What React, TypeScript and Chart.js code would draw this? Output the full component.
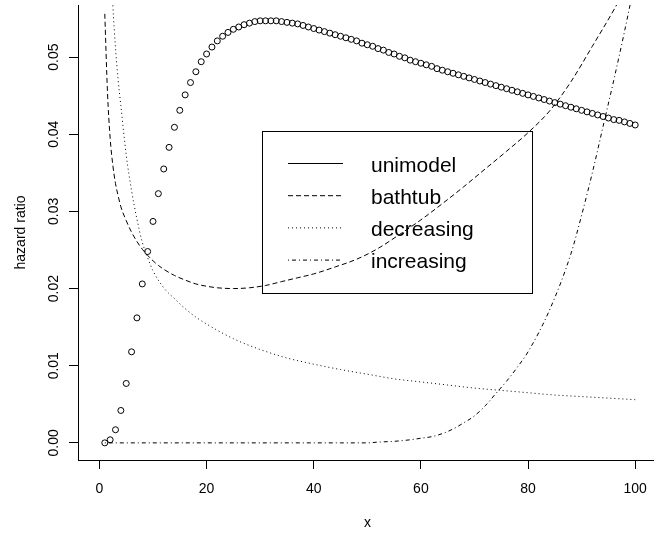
import React, { useEffect, useRef } from "react";
import { Chart, registerables } from "chart.js";

Chart.register(...registerables);

// ---- data ----
const unimodelX = Array.from({ length: 100 }, (_, i) => i + 1);
const unimodelY = [
  0.0000, 0.0004, 0.0017, 0.0042, 0.0077, 0.0118, 0.0162, 0.0206, 0.0248, 0.0287,
  0.0323, 0.0355, 0.0383, 0.0409, 0.0431, 0.0451, 0.0467, 0.0481, 0.0494, 0.0504,
  0.0513, 0.0521, 0.0527, 0.0532, 0.0536, 0.0539, 0.0542, 0.0544, 0.0546, 0.0547,
  0.0547, 0.0547, 0.0547, 0.0546, 0.0545, 0.0544, 0.0543, 0.0541, 0.0539, 0.0537,
  0.0535, 0.0533, 0.0531, 0.0529, 0.0527, 0.0525, 0.0523, 0.0521, 0.0518, 0.0516,
  0.0514, 0.0511, 0.0509, 0.0506, 0.0504, 0.0501, 0.0499, 0.0496, 0.0494, 0.0492,
  0.0490, 0.0488, 0.0485, 0.0483, 0.0481, 0.0479, 0.0477, 0.0475, 0.0473, 0.0471,
  0.0469, 0.0467, 0.0465, 0.0463, 0.0461, 0.0459, 0.0457, 0.0455, 0.0453, 0.0451,
  0.0449, 0.0447, 0.0445, 0.0443, 0.0441, 0.0439, 0.0437, 0.0435, 0.0433, 0.0431,
  0.0429, 0.0427, 0.0425, 0.0423, 0.0421, 0.0419, 0.0418, 0.0416, 0.0414, 0.0412,
];

const bathtubX = [1, 1.5, 2, 2.5, 3, 3.5, 4, 5, 6, 7, 8, 9, 10, 11, 12, 14, 16, 18, 20, 22, 25, 28, 31, 34, 37, 40, 44, 48, 52, 56, 60, 64, 68, 72, 76, 80, 84, 88, 92, 96, 100];
const bathtubY = [0.0556, 0.0455, 0.0395, 0.0360, 0.0336, 0.0320, 0.0306, 0.0288, 0.0273, 0.0261, 0.0251, 0.0243, 0.0236, 0.0230, 0.0225, 0.0217, 0.0211, 0.0206, 0.0203, 0.0201, 0.0200, 0.0201, 0.0204, 0.0209, 0.0214, 0.0219, 0.0228, 0.0238, 0.0252, 0.0270, 0.0289, 0.0310, 0.0332, 0.0355, 0.0378, 0.0402, 0.0430, 0.0468, 0.0514, 0.0561, 0.0612];

const decreasingX = [2, 2.5, 3, 3.5, 4, 5, 6, 7, 8, 9, 10, 12, 14, 16, 18, 20, 25, 30, 35, 40, 45, 50, 55, 60, 65, 70, 75, 80, 85, 90, 95, 100];
const decreasingY = [0.0650, 0.0568, 0.0512, 0.0470, 0.0437, 0.0373, 0.0327, 0.0290, 0.0260, 0.0240, 0.0223, 0.0201, 0.0187, 0.0174, 0.0163, 0.0154, 0.0135, 0.0121, 0.0110, 0.0102, 0.0095, 0.0089, 0.0083, 0.0079, 0.0075, 0.0071, 0.0068, 0.0065, 0.0062, 0.0060, 0.0058, 0.0056];

const increasingX = [1, 10, 20, 30, 40, 45, 50, 52, 55, 58, 60, 62, 64, 66, 68, 70, 72, 74, 76, 78, 80, 84, 88, 90, 92, 94, 96, 98, 100];
const increasingY = [0, 0, 0, 0, 0, 0, 0, 0.0001, 0.0002, 0.0004, 0.0006, 0.0008, 0.0012, 0.0018, 0.0026, 0.0035, 0.0048, 0.0064, 0.0080, 0.0098, 0.0118, 0.0172, 0.0245, 0.0295, 0.0350, 0.0410, 0.0470, 0.0533, 0.0600];

const xTicks = [0, 20, 40, 60, 80, 100];
const xTickLabels = ["0", "20", "40", "60", "80", "100"];
const yTicks = [0, 0.01, 0.02, 0.03, 0.04, 0.05];
const yTickLabels = ["0.00", "0.01", "0.02", "0.03", "0.04", "0.05"];
const legendLabels = ["unimodel", "bathtub", "decreasing", "increasing"];
const xTitle = "x";
const yTitle = "hazard ratio";

const pairs = (xs: number[], ys: number[]) => xs.map((x, i) => ({ x, y: ys[i] }));

const DASH_BATH = [5, 3];
const DASH_DEC = [1, 3];
const DASH_INC = [1, 3, 4, 3];
const FONT = "'Liberation Sans', Arial, Helvetica, sans-serif";

const overlay = {
  id: "overlay",
  afterDraw(chart: any) {
    const ctx = chart.ctx as CanvasRenderingContext2D;
    const xs = chart.scales.x;
    const ys = chart.scales.y;
    const a = chart.chartArea;
    ctx.save();
    ctx.fillStyle = "#000";
    ctx.strokeStyle = "#000";
    ctx.font = `14px ${FONT}`;
    ctx.textAlign = "center";
    ctx.textBaseline = "alphabetic";
    xTicks.forEach((v, i) => {
      ctx.fillText(xTickLabels[i], xs.getPixelForValue(v), a.bottom + 32.5);
    });
    yTicks.forEach((v, i) => {
      ctx.save();
      ctx.translate(a.left - 20, ys.getPixelForValue(v));
      ctx.rotate(-Math.PI / 2);
      ctx.fillText(yTickLabels[i], 0, 0);
      ctx.restore();
    });
    ctx.fillText(xTitle, (a.left + a.right) / 2, a.bottom + 66.5);
    ctx.save();
    ctx.translate(25, (a.top + a.bottom) / 2);
    ctx.rotate(-Math.PI / 2);
    ctx.fillText(yTitle, 0, 0);
    ctx.restore();

    // legend
    ctx.lineWidth = 1;
    ctx.setLineDash([]);
    ctx.strokeRect(262.5, 131.5, 270, 162);
    const rows = [163.5, 195.7, 227.9, 260.1];
    const dashes = [[], DASH_BATH, DASH_DEC, DASH_INC];
    ctx.font = `21px ${FONT}`;
    ctx.textAlign = "left";
    legendLabels.forEach((lab, i) => {
      ctx.setLineDash(dashes[i]);
      ctx.beginPath();
      ctx.moveTo(288, rows[i]);
      ctx.lineTo(343, rows[i]);
      ctx.stroke();
      ctx.setLineDash([]);
      ctx.fillText(lab, 371, rows[i] + 8.3);
    });
    ctx.restore();
  },
};

export default function App() {
  const ref = useRef<HTMLCanvasElement | null>(null);
  useEffect(() => {
    if (!ref.current) return;
    const chart = new Chart(ref.current, {
      type: "line",
      data: {
        datasets: [
          {
            label: legendLabels[0],
            data: pairs(unimodelX, unimodelY),
            showLine: false,
            pointRadius: 3,
            pointBorderWidth: 1,
            pointBorderColor: "#000",
            pointBackgroundColor: "rgba(0,0,0,0)",
            borderColor: "#000",
          },
          {
            label: legendLabels[1],
            data: pairs(bathtubX, bathtubY),
            borderColor: "#000",
            borderWidth: 1,
            borderDash: DASH_BATH,
            pointRadius: 0,
            cubicInterpolationMode: "monotone",
          },
          {
            label: legendLabels[2],
            data: pairs(decreasingX, decreasingY),
            borderColor: "#000",
            borderWidth: 1,
            borderDash: DASH_DEC,
            pointRadius: 0,
            cubicInterpolationMode: "monotone",
          },
          {
            label: legendLabels[3],
            data: pairs(increasingX, increasingY),
            borderColor: "#000",
            borderWidth: 1,
            borderDash: DASH_INC,
            pointRadius: 0,
            cubicInterpolationMode: "monotone",
          },
        ],
      },
      options: {
        responsive: false,
        animation: false,
        events: [],
        layout: { padding: 0 },
        plugins: { legend: { display: false }, tooltip: { enabled: false } },
        scales: {
          x: {
            type: "linear",
            position: "bottom",
            min: -4,
            max: 104.07,
            grid: { drawOnChartArea: false, drawTicks: true, tickLength: 9, color: "#000", tickColor: "#000", lineWidth: 1 },
            border: { display: true, color: "#000", width: 1 },
            ticks: { display: false },
            afterBuildTicks: (s: any) => {
              s.ticks = xTicks.map((v) => ({ value: v }));
            },
            afterFit: (s: any) => {
              s.height = 75;
              s.paddingLeft = 0;
              s.paddingRight = 0;
            },
          },
          y: {
            type: "linear",
            position: "left",
            min: -0.00222,
            max: 0.05675,
            grid: { drawOnChartArea: false, drawTicks: true, tickLength: 9, color: "#000", tickColor: "#000", lineWidth: 1 },
            border: { display: true, color: "#000", width: 1 },
            ticks: { display: false },
            afterBuildTicks: (s: any) => {
              s.ticks = yTicks.map((v) => ({ value: v }));
            },
            afterFit: (s: any) => {
              s.width = 78;
              s.paddingTop = 0;
              s.paddingBottom = 0;
            },
          },
        },
      },
      plugins: [overlay],
    } as any);
    return () => chart.destroy();
  }, []);
  return (
    <div style={{ position: "fixed", left: 0, top: 0, width: 654, height: 535, overflow: "hidden", background: "#fff" }}>
      <canvas ref={ref} width={662} height={535} style={{ display: "block", width: 662, height: 535 }} />
    </div>
  );
}
